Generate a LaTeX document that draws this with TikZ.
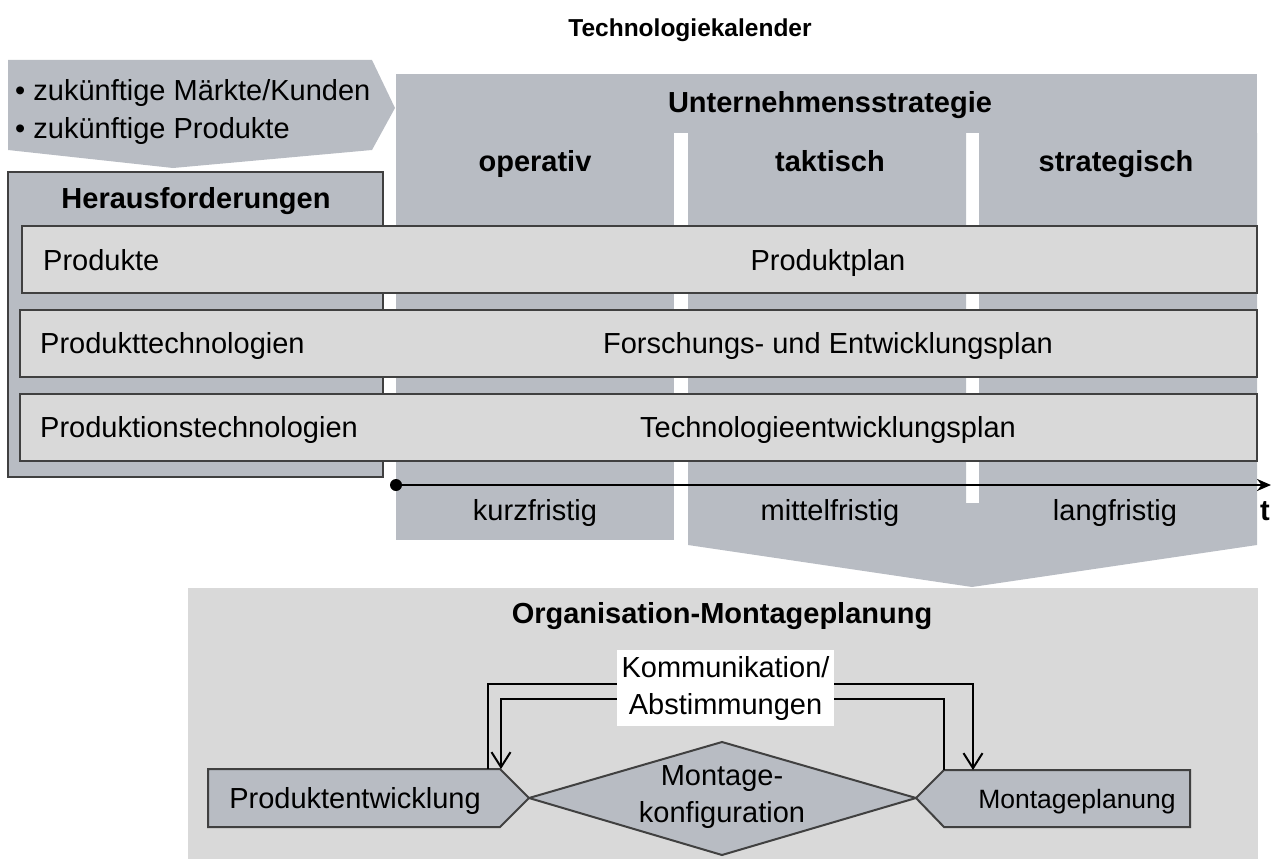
\documentclass[tikz,border=0pt]{standalone}
\usepackage{fontspec}
\setmainfont{Liberation Sans}
\usetikzlibrary{arrows.meta,calc}
\definecolor{panel}{HTML}{B8BCC3}
\definecolor{band}{HTML}{D9D9D9}
\definecolor{edge}{HTML}{404040}
\begin{document}
\begin{tikzpicture}[x=1pt,y=-1pt,
  txt/.style={font=\fontsize{29}{37}\selectfont, inner sep=0pt, anchor=base},
  bold/.style={txt, font=\fontsize{29}{37}\selectfont\bfseries},
  outline/.style={draw=edge, line width=2pt},
  bandbox/.style={outline, fill=band, inner sep=0pt},
  link/.style={line width=2pt, draw=black},
  barb/.style={-{Straight Barb[length=15pt,width=19pt]}},
  ]
\useasboundingbox (0,0) rectangle (1272,859);

% title
\node[bold, font=\fontsize{24.5}{30}\selectfont\bfseries] (title) at (690,37) {Technologiekalender};

% strategy panel with its three time columns
\fill[panel] (396,74) rectangle (1257,133);
\fill[panel] (396,133) rectangle (674,540);
\fill[panel] (688,133) -- (966,133) -- (966,503) -- (979,503) -- (979,133)
  -- (1257,133) -- (1257,545) -- (972,587) -- (688,545) -- cycle;
\node[bold] (strat) at (830,112) {Unternehmensstrategie};
\node[bold] (op) at (535,171) {operativ};
\node[bold] (ta) at (830,171) {taktisch};
\node[bold] (st) at (1116,171) {strategisch};

% input chevron
\fill[panel] (8,60) -- (372,60) -- (395,108) -- (372,150) -- (173,168) -- (8,150) -- cycle;
\node[txt, anchor=base west] (in1) at (15,100) {• zukünftige Märkte/Kunden};
\node[txt, anchor=base west] (in2) at (15,138) {• zukünftige Produkte};

% challenges box
\draw[outline, fill=panel] (8,172) rectangle (383,477);
\node[bold] (her) at (196,208) {Herausforderungen};

% planning rows
\node[bandbox, minimum width=1235, minimum height=67] (r1) at (639.5,259.5) {};
\node[bandbox, minimum width=1237, minimum height=67] (r2) at (638.5,343.5) {};
\node[bandbox, minimum width=1237, minimum height=67] (r3) at (638.5,427.5) {};
\node[txt, anchor=base west] (l1) at (43,270) {Produkte};
\node[txt] (p1) at (828,270) {Produktplan};
\node[txt, anchor=base west] (l2) at (40,353) {Produkttechnologien};
\node[txt] (p2) at (828,353) {Forschungs- und Entwicklungsplan};
\node[txt, anchor=base west] (l3) at (40,437) {Produktionstechnologien};
\node[txt] (p3) at (828,437) {Technologieentwicklungsplan};

% time axis
\coordinate (t0) at (396,485);
\coordinate (t1) at (1271,485);
\fill (t0) circle (6);
\draw[line width=2.5pt, -{Stealth[length=14pt,width=12pt]}] (t0) -- (t1);
\node[bold] (tl) at (1265,520) {t};
\node[txt] (k1) at (535,520) {kurzfristig};
\node[txt] (k2) at (830,520) {mittelfristig};
\node[txt] (k3) at (1115,520) {langfristig};

% organisation panel
\fill[band] (188,588) rectangle (1258,859);
\node[bold] (org) at (722,623) {Organisation-Montageplanung};

\node[txt, anchor=center, fill=white, minimum width=217, minimum height=76,
  align=center] (kom) at (725.5,688) {Kommunikation/\\Abstimmungen};

\draw[outline, fill=panel] (529,798) -- (722,742) -- (916,798) -- (722,855) -- cycle;
\node[txt, anchor=center, align=center] (mk) at (722,797) {Montage-\\konfiguration};

\draw[outline, fill=panel] (208,769) -- (500,769) -- (529,798) -- (500,827) -- (208,827) -- cycle;
\node[txt] (pe) at (355,808) {Produktentwicklung};
\draw[outline, fill=panel] (916,798) -- (944,770) -- (1190,770) -- (1190,827) -- (944,827) -- cycle;
\node[txt, font=\fontsize{26.5}{34}\selectfont] (mp) at (1077,808) {Montageplanung};

% feedback connectors
\coordinate (peA) at (488,769);
\coordinate (peB) at (501,769);
\coordinate (mpA) at (973,770);
\coordinate (mpB) at (944,770);
\draw[link] ([yshift=4pt]kom.west) -| (peA);
\draw[link, barb] ([yshift=-11pt]kom.west) -| (peB);
\draw[link, barb] ([yshift=4pt]kom.east) -| (mpA);
\draw[link] ([yshift=-11pt]kom.east) -| (mpB);
\end{tikzpicture}
\end{document}
